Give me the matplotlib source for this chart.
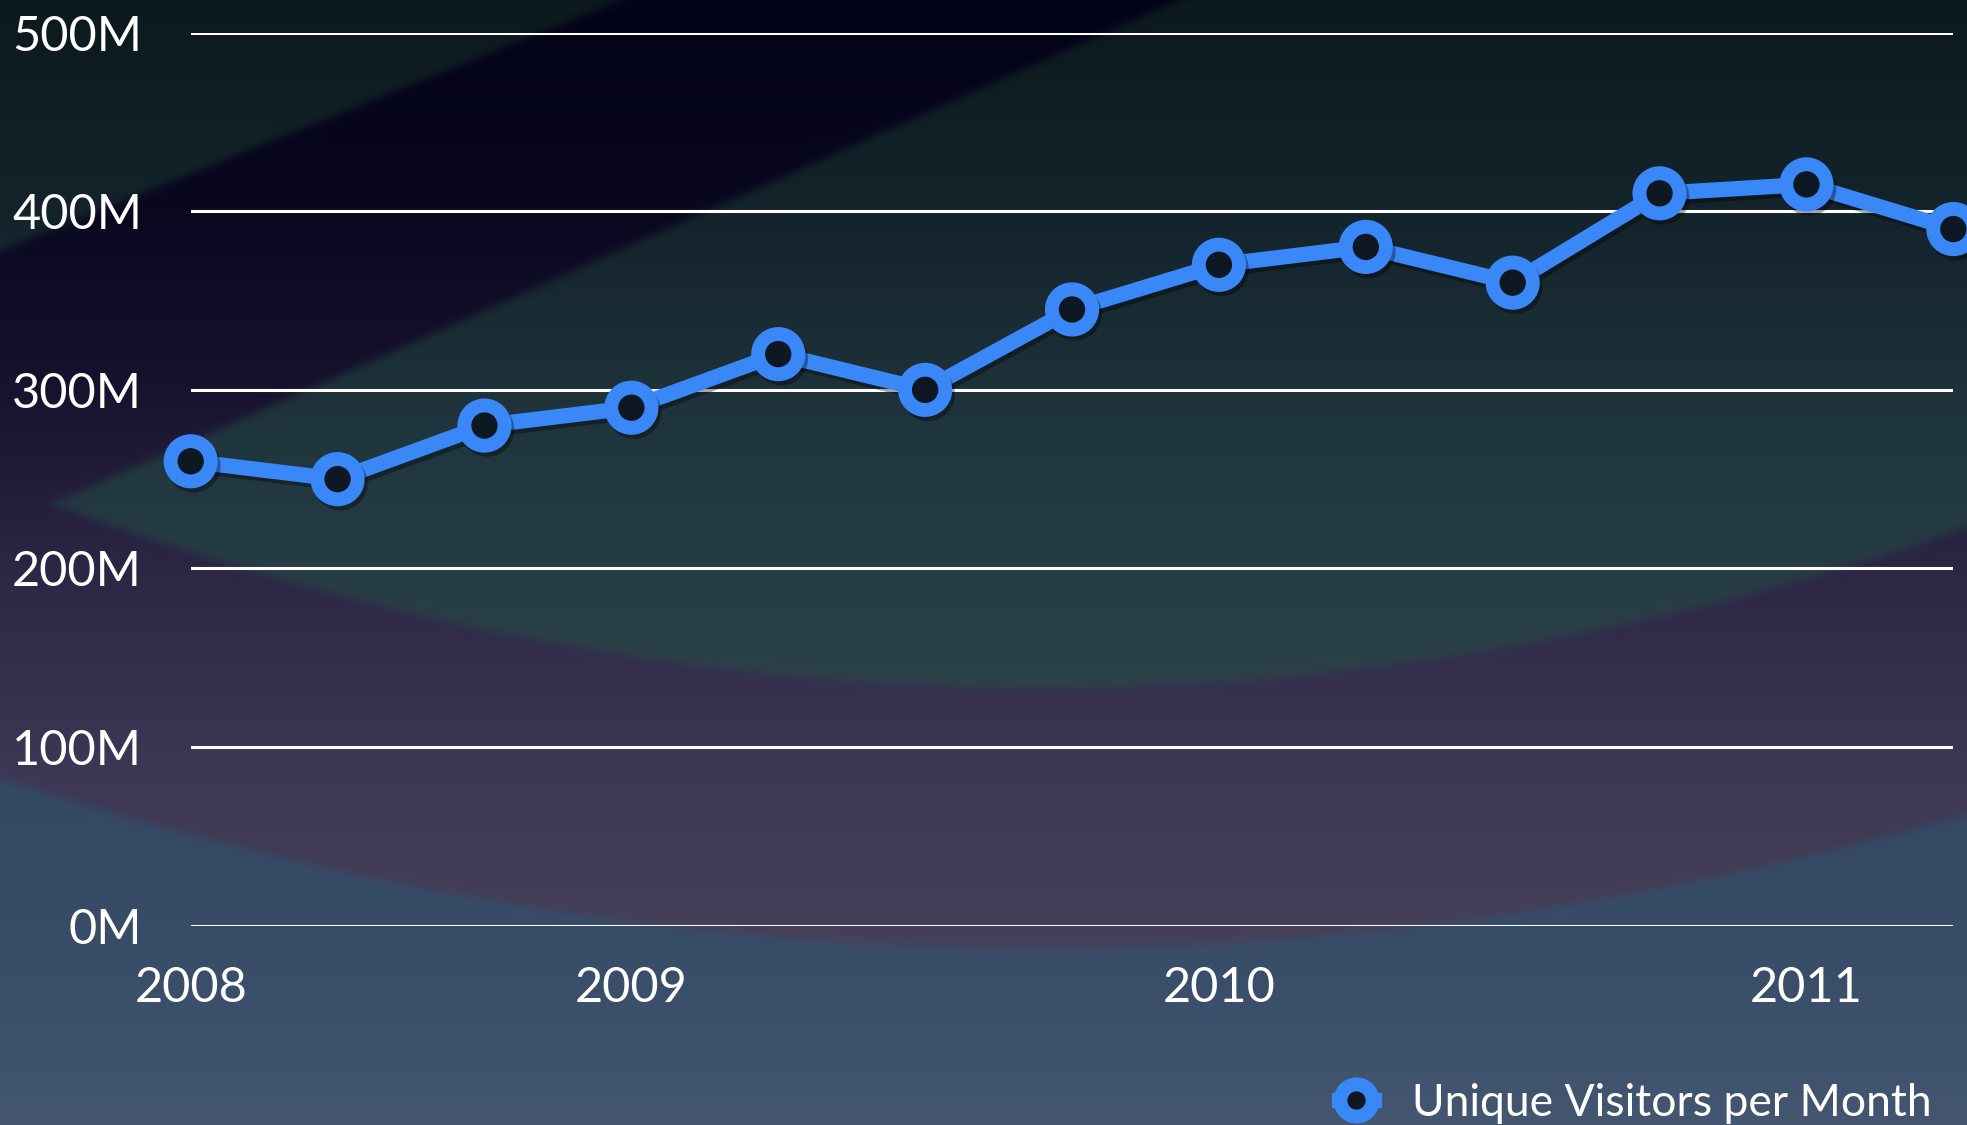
import numpy as np
import matplotlib
matplotlib.use("Agg")
import matplotlib.pyplot as plt
from matplotlib import patheffects as pe
from matplotlib.ticker import FuncFormatter

# ---- data ----
periods = ["Q1-08", "Q2-08", "Q3-08", "Q4-08", "Q1-09", "Q2-09", "Q3-09",
           "Q4-09", "Q1-10", "Q2-10", "Q3-10", "Q4-10", "Q1-11"]
visitors_m = [260, 250, 280, 290, 320, 300, 345, 370, 380, 360, 410, 415, 390]
year_tick_index = [0, 3, 7, 11]
year_labels = ["2008", "2009", "2010", "2011"]
y_ticks = [0, 100, 200, 300, 400, 500]
series_name = "Unique Visitors per Month"

plt.rcParams["font.family"] = ["Lato", "DejaVu Sans"]

W, H = 1967, 1125
fig = plt.figure(figsize=(W / 100, H / 100), dpi=100)

# ---- decorative background ----
yy, xx = np.mgrid[0:H, 0:W].astype(float)
u = xx / 1.2545
v = yy / 1.2545


def grad(vv, stops):
    pos = [s[0] for s in stops]
    out = np.zeros(vv.shape + (3,))
    for c in range(3):
        out[..., c] = np.interp(vv, pos, [s[1][c] for s in stops])
    return out / 255.0


def soft(d, w=2.0):
    return 1.0 / (1.0 + np.exp(-np.clip(d / w, -50, 50)))


teal = grad(v, [(0, (12, 25, 30)), (200, (22, 38, 46)), (350, (32, 54, 62)), (560, (45, 67, 75))])
navy = grad(v, [(0, (3, 3, 24)), (150, (8, 7, 30)), (300, (22, 17, 44)), (450, (44, 37, 68)),
                (600, (60, 54, 84)), (760, (72, 64, 90))])
blue = grad(v, [(600, (50, 72, 98)), (760, (56, 77, 104)), (897, (68, 86, 112))])

L1 = 199 * (1 - u / 494)
L2 = 396 - 0.4475 * (u - 53)
arc1 = 548 - 2.35e-4 * (u - 830) ** 2
arc2 = 755 - 1.96e-4 * (u - 830) ** 2
corner = soft(L1 - v)
wedge = soft(v - L2) * soft(arc1 - v)
tmask = np.maximum(corner, wedge)[..., None]
bmask = soft(v - arc2)[..., None]
img = navy * (1 - tmask) + teal * tmask
img = img * (1 - bmask) + blue * bmask

bg = fig.add_axes([0, 0, 1, 1], zorder=-10)
bg.imshow(img, extent=[0, 1, 0, 1], aspect="auto", interpolation="bilinear")
bg.axis("off")

# ---- chart ----
ax = fig.add_axes([0.09695, 0.1771, 0.8961, 0.79396])
ax.patch.set_alpha(0)
x = np.arange(len(periods))
line_color = "#3a87f7"
ln, = ax.plot(x, visitors_m, color=line_color, lw=11, marker="o", ms=29,
              mew=10, mec=line_color, mfc="#0e1822", clip_on=False, zorder=5,
              label=series_name, solid_joinstyle="round")
ln.set_path_effects([pe.SimpleLineShadow(offset=(2, -3), shadow_color="black", alpha=0.35),
                     pe.Normal()])

ax.set_xlim(0, len(periods) - 1)
ax.set_ylim(0, 500)
ax.set_yticks(y_ticks)
ax.yaxis.set_major_formatter(FuncFormatter(lambda val, p: f"{int(val)}M"))
ax.set_xticks(year_tick_index)
ax.set_xticklabels(year_labels)
ax.yaxis.grid(True, color="white", lw=2.2)
ax.set_axisbelow(True)
for s in ax.spines.values():
    s.set_visible(False)
ax.tick_params(axis="both", length=0, colors="white", labelsize=35)
ax.tick_params(axis="y", pad=35)
ax.tick_params(axis="x", pad=29)

leg = fig.legend(handles=[ln], labels=[series_name], loc="center left",
                 bbox_to_anchor=(0.6805, 0.0195), frameon=False, fontsize=32,
                 handlelength=0.8, handletextpad=0.85, borderpad=0, borderaxespad=0,
                 markerscale=0.8, labelcolor="white")
for h in leg.legend_handles:
    h.set_path_effects([])

fig.savefig("out.png", dpi=100)
